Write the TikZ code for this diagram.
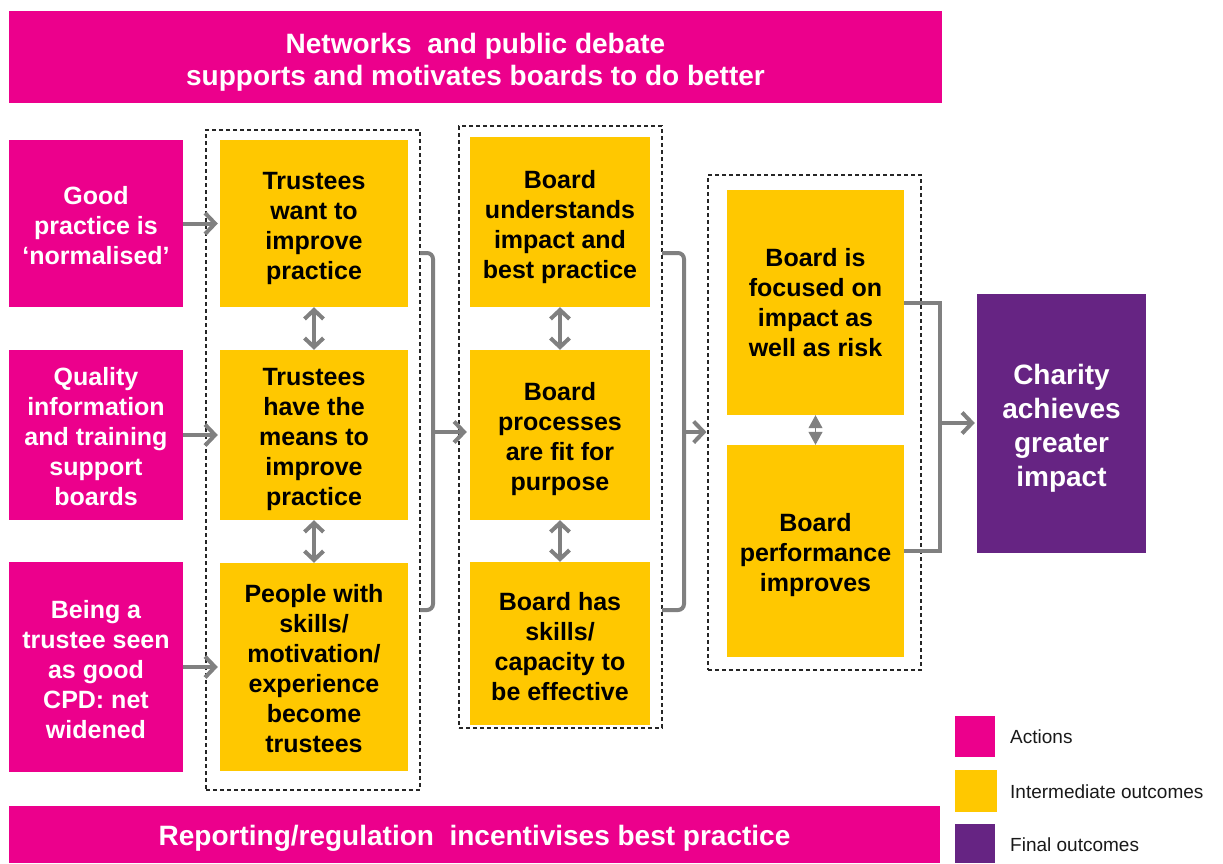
\documentclass[tikz,border=0pt]{standalone}
\usepackage{fontspec}
\setmainfont{Liberation Sans}
\usetikzlibrary{arrows.meta}

\definecolor{actmag}{HTML}{EC008C}
\definecolor{midyel}{HTML}{FFC800}
\definecolor{finpur}{HTML}{662483}
\definecolor{linkgray}{HTML}{808080}

\begin{document}
\begin{tikzpicture}[x=1pt,y=-1pt,
  panel/.style={inner sep=0pt},
  actbox/.style={panel, fill=actmag},
  midbox/.style={panel, fill=midyel},
  finbox/.style={panel, fill=finpur},
  words/.style={inner sep=0pt, align=center, font=\bfseries\fontsize{25}{30}\selectfont},
  actwords/.style={words, text=white},
  midwords/.style={words, text=black},
  finwords/.style={words, text=white, font=\bfseries\fontsize{28}{34}\selectfont},
  bannerwords/.style={words, text=white, font=\bfseries\fontsize{28}{32}\selectfont},
  groupframe/.style={draw=black!85, line width=1.1pt, dash pattern=on 4pt off 3pt, inner sep=0pt},
  link/.style={draw=linkgray, line width=4pt, -{Straight Barb[length=10pt,width=21pt]}},
  twoway/.style={draw=linkgray, line width=4pt, {Straight Barb[length=9pt,width=19pt]}-{Straight Barb[length=9pt,width=19pt]}},
  tightway/.style={draw=linkgray, fill=linkgray, line width=1pt, {Triangle[length=13pt,width=14pt]}-{Triangle[length=13pt,width=14pt]}},
  joiner/.style={draw=linkgray, line width=4pt},
  legendkey/.style={inner sep=0pt, minimum width=40pt, minimum height=41pt},
  legendtext/.style={anchor=west, inner sep=0pt, text=black!90, font=\fontsize{19}{22}\selectfont}
]
\useasboundingbox (0,0) rectangle (1223,863);

% banners
\node[actbox, minimum width=933pt, minimum height=92pt] (top) at (475.5,57) {};
\node[bannerwords] (toptxt) at ([yshift=-5pt]top.center)
  {Networks \ and public debate\\supports and motivates boards to do better};
\node[actbox, minimum width=931pt, minimum height=57pt] (bottom) at (474.5,834.5) {};
\node[bannerwords] (bottomtxt) at ([yshift=-4pt]bottom.center)
  {Reporting/regulation \ incentivises best practice};

% actions
\node[actbox, minimum width=174pt, minimum height=167pt] (m1) at (96,223.5) {};
\node[actwords] (m1txt) at ([yshift=-2pt]m1.center) {Good\\practice is\\‘normalised’};
\node[actbox, minimum width=174pt, minimum height=170pt] (m2) at (96,435) {};
\node[actwords] (m2txt) at ([yshift=-2pt]m2.center) {Quality\\information\\and training\\support\\boards};
\node[actbox, minimum width=174pt, minimum height=210pt] (m3) at (96,667) {};
\node[actwords] (m3txt) at ([yshift=-3pt]m3.center) {Being a\\trustee seen\\as good\\CPD: net\\widened};

% first group
\node[groupframe, minimum width=214pt, minimum height=660pt] (f1) at (313,460) {};
\node[midbox, minimum width=188pt, minimum height=167pt] (y11) at (314,223.5) {};
\node[midwords] (y11txt) at ([yshift=-5pt]y11.center) {Trustees\\want to\\improve\\practice};
\node[midbox, minimum width=188pt, minimum height=170pt] (y12) at (314,435) {};
\node[midwords] (y12txt) at ([yshift=-4pt]y12.center) {Trustees\\have the\\means to\\improve\\practice};
\node[midbox, minimum width=188pt, minimum height=208pt] (y13) at (314,667) {};
\node[midwords] (y13txt) at ([yshift=-2pt]y13.center) {People with\\skills/\\motivation/\\experience\\become\\trustees};

% second group
\node[groupframe, minimum width=203pt, minimum height=602pt] (f2) at (560.5,427) {};
\node[midbox, minimum width=180pt, minimum height=170pt] (y21) at (560,222) {};
\node[midwords] (y21txt) at ([yshift=-5pt]y21.center) {Board\\understands\\impact and\\best practice};
\node[midbox, minimum width=180pt, minimum height=170pt] (y22) at (560,435) {};
\node[midwords] (y22txt) at ([yshift=-4pt]y22.center) {Board\\processes\\are fit for\\purpose};
\node[midbox, minimum width=180pt, minimum height=163pt] (y23) at (560,643.5) {};
\node[midwords] (y23txt) at ([yshift=-3pt]y23.center) {Board has\\skills/\\capacity to\\be effective};

% third group
\node[groupframe, minimum width=213pt, minimum height=495pt] (f3) at (814.5,422.5) {};
\node[midbox, minimum width=177pt, minimum height=225pt] (y31) at (815.5,302.5) {};
\node[midwords] (y31txt) at (y31.center) {Board is\\focused on\\impact as\\well as risk};
\node[midbox, minimum width=177pt, minimum height=212pt] (y32) at (815.5,551) {};
\node[midwords] (y32txt) at ([yshift=-4pt]y32.center) {Board\\performance\\improves};

% final outcome
\node[finbox, minimum width=169pt, minimum height=259pt] (fin) at (1061.5,423.5) {};
\node[finwords] (fintxt) at ([yshift=-5pt]fin.center) {Charity\\achieves\\greater\\impact};

% actions feed the first group
\draw[link, shorten >=2pt] (m1.east) -- (m1.east -| y11.west);
\draw[link, shorten >=2pt] (m2.east) -- (m2.east -| y12.west);
\draw[link, shorten >=2pt] (m3.east) -- (m3.east -| y13.west);

% links inside the groups
\draw[twoway] (y11.south) -- (y12.north);
\draw[twoway] (y12.south) -- (y13.north);
\draw[twoway] (y21.south) -- (y22.north);
\draw[twoway] (y22.south) -- (y23.north);
\draw[tightway] (y31.south) -- (y32.north);

% bracket from the first group to the second
\coordinate (b1top) at (420,253);
\coordinate (b1bot) at (420,610);
\coordinate (b1mid) at (433,432);
\draw[joiner, rounded corners=6pt] (b1top) -- ++(13,0) -- ++(0,357) -- (b1bot);
\draw[link, shorten >=3pt] (b1mid) -- (b1mid -| y22.west);

% bracket from the second group to the third
\coordinate (b2top) at (662,253);
\coordinate (b2bot) at (662,610);
\coordinate (b2mid) at (684,432);
\draw[joiner, rounded corners=6pt] (b2top) -- ++(22,0) -- ++(0,357) -- (b2bot);
\draw[link, shorten >=1pt] (b2mid) -- (b2mid -| f3.west);

% bracket from the third group to the final outcome
\coordinate (b3mid) at (940,423);
\draw[joiner] (y31.east) -| (b3mid) |- (y32.east);
\draw[link, shorten >=2pt] (b3mid) -- (b3mid -| fin.west);

% legend
\node[legendkey, fill=actmag] (k1) at (975,736.5) {};
\node[legendkey, fill=midyel, minimum width=42pt, minimum height=42pt] (k2) at (976,791) {};
\node[legendkey, fill=finpur, minimum height=39pt] (k3) at (975,843.5) {};
\node[legendtext] (t1) at (1010,737) {Actions};
\node[legendtext] (t2) at (1010,792) {Intermediate outcomes};
\node[legendtext] (t3) at (1010,845) {Final outcomes};
\end{tikzpicture}
\end{document}
